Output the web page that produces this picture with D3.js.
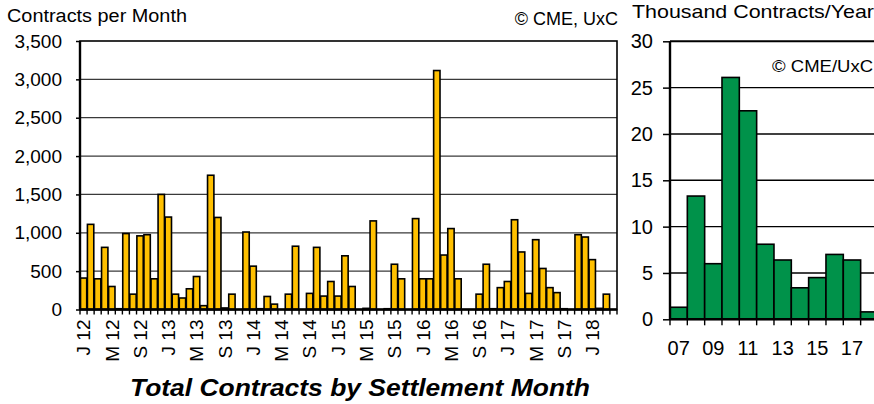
<!DOCTYPE html>
<html>
<head>
<meta charset="utf-8">
<script src="https://cdn.jsdelivr.net/npm/d3@7"></script>
<style>
body { margin: 0; background: #fff; }
text { font-family: Arial, "Liberation Sans", sans-serif; fill: #000; }
</style>
</head>
<body>
<div id="chart"></div>
<script>
// Monthly contracts by settlement month, Jan 2012 .. Apr 2018
var monthlyContracts = [
  410, 1110, 400, 810, 300, 10, 990, 200, 960, 975, 400, 1500,   // 2012
  1205, 200, 150, 270, 430, 50, 1750, 1200, 20, 200, 0, 1010,    // 2013
  565, 10, 170, 70, 0, 200, 825, 0, 210, 810, 175, 365,          // 2014
  175, 700, 300, 0, 15, 1155, 0, 10, 590, 400, 0, 1185,          // 2015
  400, 400, 3115, 710, 1055, 400, 0, 0, 200, 590, 10, 285,       // 2016
  365, 1170, 750, 210, 910, 535, 285, 220, 10, 0, 975, 945,      // 2017
  650, 15, 200, 0                                                // 2018
];
var monthTickLabels = ["J 12", "M 12", "S 12", "J 13", "M 13", "S 13", "J 14", "M 14", "S 14",
  "J 15", "M 15", "S 15", "J 16", "M 16", "S 16", "J 17", "M 17", "S 17", "J 18"];
var monthYTicks = [0, 500, 1000, 1500, 2000, 2500, 3000, 3500];

// Yearly totals, thousand contracts
var years = ["07", "08", "09", "10", "11", "12", "13", "14", "15", "16", "17", "18"];
var yearlyContracts = [1.3, 13.3, 6.0, 26.1, 22.5, 8.1, 6.4, 3.4, 4.5, 7.0, 6.4, 0.8];
var yearTickLabels = ["07", "09", "11", "13", "15", "17"];
var yearYTicks = [0, 5, 10, 15, 20, 25, 30];

var width = 874;
var height = 404;
var goldColor = '#FFC000';
var greenColor = '#00924A';

var svg = d3.select("#chart")
  .append("svg")
  .attr("width", width)
  .attr("height", height);

// ---------- left chart: contracts per month ----------
var lx0 = 80, lx1 = 617, ly0 = 309.5, ly1 = 41;

var xMonth = d3.scaleBand()
  .domain(d3.range(monthlyContracts.length))
  .range([lx0, lx1])
  .padding(0);
var yMonth = d3.scaleLinear().domain([0, 3500]).range([ly0, ly1]);

// gridlines
svg.append("g").selectAll("line")
  .data(monthYTicks.slice(1, -1))
  .enter().append("line")
  .attr("x1", lx0).attr("x2", lx1)
  .attr("y1", function(d) { return yMonth(d); })
  .attr("y2", function(d) { return yMonth(d); })
  .style("stroke", "#3a3a3a")
  .style("stroke-width", 1.3);

// bars
var inset = xMonth.bandwidth() * 0.05;
svg.append("g").selectAll("rect")
  .data(monthlyContracts)
  .enter().append("rect")
  .attr("x", function(d, i) { return xMonth(i) + inset; })
  .attr("width", xMonth.bandwidth() - 2 * inset)
  .attr("y", function(d) { return yMonth(d); })
  .attr("height", function(d) { return ly0 - yMonth(d); })
  .style("fill", goldColor)
  .style("stroke", "#000")
  .style("stroke-width", 1.6);

// frame
svg.append("rect")
  .attr("x", lx0).attr("y", ly1)
  .attr("width", lx1 - lx0).attr("height", ly0 - ly1)
  .style("fill", "none")
  .style("stroke", "#000")
  .style("stroke-width", 1.6);
svg.append("line")
  .attr("x1", lx0).attr("x2", lx0).attr("y1", ly1).attr("y2", ly0)
  .style("stroke", "#000").style("stroke-width", 2.4);
svg.append("line")
  .attr("x1", lx0).attr("x2", lx1).attr("y1", ly0).attr("y2", ly0)
  .style("stroke", "#000").style("stroke-width", 2.4);

// y axis
var yMonthAxis = d3.axisLeft(yMonth)
  .tickValues(monthYTicks)
  .tickFormat(d3.format(","))
  .tickSize(4)
  .tickPadding(14);
var gyl = svg.append("g")
  .attr("transform", "translate(" + lx0 + ",0)")
  .call(yMonthAxis);
gyl.select(".domain").remove();
gyl.selectAll("line").style("stroke", "#000").style("stroke-width", 1.5);
gyl.selectAll("text")
  .attr("font-size", 19)
  .attr("font-family", "Arial, 'Liberation Sans', sans-serif");

// x ticks at month boundaries
svg.append("g").selectAll("line")
  .data(d3.range(monthlyContracts.length + 1))
  .enter().append("line")
  .attr("x1", function(i) { return lx0 + i * xMonth.step(); })
  .attr("x2", function(i) { return lx0 + i * xMonth.step(); })
  .attr("y1", ly0).attr("y2", ly0 + 5)
  .style("stroke", "#000")
  .style("stroke-width", 1.4);

// rotated month labels every 4 months
svg.append("g").selectAll("text")
  .data(monthTickLabels)
  .enter().append("text")
  .attr("transform", function(d, i) {
    var cx = xMonth(i * 4) + xMonth.bandwidth() / 2;
    return "translate(" + cx + "," + (ly0 + 10) + ") rotate(-90)";
  })
  .attr("dy", "0.36em")
  .attr("text-anchor", "end")
  .attr("font-size", 19)
  .text(function(d) { return d; });

svg.append("text")
  .attr("x", 7).attr("y", 22)
  .attr("font-size", 18)
  .attr("textLength", 180)
  .attr("lengthAdjust", "spacingAndGlyphs")
  .text("Contracts per Month");

svg.append("text")
  .attr("x", 618).attr("y", 25)
  .attr("text-anchor", "end")
  .attr("font-size", 18)
  .text("© CME, UxC");

svg.append("text")
  .attr("x", 130).attr("y", 396)
  .attr("font-size", 24)
  .attr("font-weight", "bold")
  .attr("font-style", "italic")
  .attr("textLength", 460)
  .attr("lengthAdjust", "spacingAndGlyphs")
  .text("Total Contracts by Settlement Month");

// ---------- right chart: thousand contracts per year ----------
var rx0 = 670, ry0 = 319.3, ry1 = 41.3;
var rx1 = rx0 + 17.33 * years.length;

var xYear = d3.scaleBand().domain(years).range([rx0, rx1]).padding(0);
var yYear = d3.scaleLinear().domain([0, 30]).range([ry0, ry1]);

svg.append("g").selectAll("line")
  .data(yearYTicks.slice(1))
  .enter().append("line")
  .attr("x1", rx0).attr("x2", rx1)
  .attr("y1", function(d) { return yYear(d); })
  .attr("y2", function(d) { return yYear(d); })
  .style("stroke", "#000")
  .style("stroke-width", function(d) { return d === 30 ? 2 : 1.4; });

svg.append("g").selectAll("rect")
  .data(yearlyContracts)
  .enter().append("rect")
  .attr("x", function(d, i) { return xYear(years[i]); })
  .attr("width", xYear.bandwidth())
  .attr("y", function(d) { return yYear(d); })
  .attr("height", function(d) { return ry0 - yYear(d); })
  .style("fill", greenColor)
  .style("stroke", "#000")
  .style("stroke-width", 1.6);

svg.append("line")
  .attr("x1", rx0).attr("x2", rx0).attr("y1", ry1).attr("y2", ry0)
  .style("stroke", "#000").style("stroke-width", 2.4);
svg.append("line")
  .attr("x1", rx0).attr("x2", rx1).attr("y1", ry0).attr("y2", ry0)
  .style("stroke", "#000").style("stroke-width", 2.4);

var yYearAxis = d3.axisLeft(yYear)
  .tickValues(yearYTicks)
  .tickSize(7)
  .tickPadding(10);
var gyr = svg.append("g")
  .attr("transform", "translate(" + rx0 + ",0)")
  .call(yYearAxis);
gyr.select(".domain").remove();
gyr.selectAll("line").style("stroke", "#000").style("stroke-width", 1.5);
gyr.selectAll("text")
  .attr("font-size", 20)
  .attr("font-family", "Arial, 'Liberation Sans', sans-serif");

svg.append("g").selectAll("line")
  .data(d3.range(years.length + 1))
  .enter().append("line")
  .attr("x1", function(i) { return rx0 + i * xYear.step(); })
  .attr("x2", function(i) { return rx0 + i * xYear.step(); })
  .attr("y1", ry0).attr("y2", ry0 + 6)
  .style("stroke", "#000")
  .style("stroke-width", 1.4);

svg.append("g").selectAll("text")
  .data(yearTickLabels)
  .enter().append("text")
  .attr("x", function(d) { return xYear(d) + xYear.bandwidth() / 2; })
  .attr("y", 355)
  .attr("text-anchor", "middle")
  .attr("font-size", 20)
  .text(function(d) { return d; });

svg.append("text")
  .attr("x", 632).attr("y", 18)
  .attr("font-size", 18.5)
  .attr("textLength", 242)
  .attr("lengthAdjust", "spacingAndGlyphs")
  .text("Thousand Contracts/Year");

svg.append("text")
  .attr("x", 772).attr("y", 72)
  .attr("font-size", 16.5)
  .attr("textLength", 101)
  .attr("lengthAdjust", "spacingAndGlyphs")
  .text("© CME/UxC");
</script>
</body>
</html>
